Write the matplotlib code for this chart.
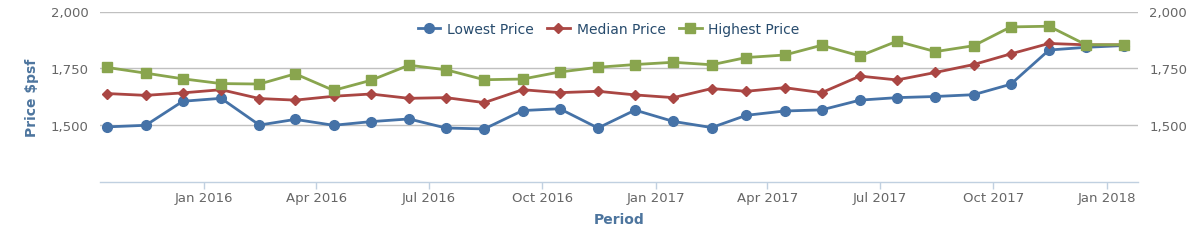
import numpy as np
import pandas as pd
import matplotlib
matplotlib.use("Agg")
import matplotlib.pyplot as plt
import matplotlib.dates as mdates

# monthly prices (mid-month), Oct 2015 - Jan 2018
periods = pd.date_range("2015-10-01", periods=28, freq="MS") + pd.Timedelta(days=14)

lowest = [1491, 1498, 1604, 1617, 1499, 1524, 1498, 1514, 1526, 1486,
          1482, 1563, 1571, 1486, 1565, 1515, 1488, 1542, 1561, 1566,
          1609, 1620, 1625, 1633, 1679, 1830, 1842, 1850]
median = [1638, 1630, 1641, 1655, 1616, 1609, 1626, 1636, 1617, 1620,
          1598, 1655, 1642, 1648, 1632, 1620, 1660, 1648, 1664, 1642,
          1715, 1698, 1731, 1766, 1813, 1859, 1853, 1853]
highest = [1753, 1728, 1703, 1682, 1680, 1725, 1652, 1696, 1763, 1743,
           1699, 1702, 1733, 1754, 1766, 1776, 1765, 1797, 1808, 1851,
           1804, 1869, 1823, 1849, 1932, 1935, 1853, 1853]

y_ticks = [1500, 1750, 2000]

plt.rcParams['font.family'] = ['DejaVu Sans']

fig = plt.figure(figsize=(12, 2.53), dpi=100)
ax = fig.add_axes([100 / 1200, 1 - 182.5 / 253, 1038 / 1200, 170 / 253])

ax.plot(periods, lowest, color="#4572A7", lw=2, marker="o", ms=7,
        label="Lowest Price", zorder=3)
ax.plot(periods, median, color="#AA4643", lw=2, marker="D", ms=5,
        label="Median Price", zorder=4)
ax.plot(periods, highest, color="#89A54E", lw=2, marker="s", ms=7,
        label="Highest Price", zorder=5)

ax.set_ylim(1250, 2000)
ax.set_yticks(y_ticks)
ax.yaxis.set_major_formatter(matplotlib.ticker.FuncFormatter(lambda v, p: f"{v:,.0f}"))
ax.set_xlim(pd.Timestamp("2015-10-09"), pd.Timestamp("2018-01-26"))
ax.xaxis.set_major_locator(mdates.MonthLocator(bymonth=[1, 4, 7, 10]))
ax.xaxis.set_major_formatter(mdates.DateFormatter("%b %Y"))

ax.grid(axis="y", color="#c0c0c0", lw=1)
ax.set_axisbelow(True)
for s in ["top", "left", "right"]:
    ax.spines[s].set_visible(False)
ax.spines["bottom"].set_color("#c0d0e0")
ax.spines["bottom"].set_linewidth(1)

ax.tick_params(axis="x", colors="#c0d0e0", length=5, width=1, labelcolor="#666666",
               labelsize=9.5, pad=1.5)
# same labels on both sides
ax.tick_params(axis="y", length=0, labelcolor="#666666", labelsize=9.5,
               labelright=True, pad=8)

ax.set_ylabel("Price $psf", color="#4d759e", fontsize=10, fontweight="bold")
ax.yaxis.set_label_coords(-0.059, 0.5)
ax.set_xlabel("Period", color="#4d759e", fontsize=10, fontweight="bold", labelpad=6)

leg = ax.legend(loc="center", bbox_to_anchor=(0.49, 0.9), ncol=3, frameon=False,
                fontsize=10, handlelength=1.6, columnspacing=1.0, handletextpad=0.5)
for t in leg.get_texts():
    t.set_color("#274b6d")

fig.savefig("out.png", dpi=100)
